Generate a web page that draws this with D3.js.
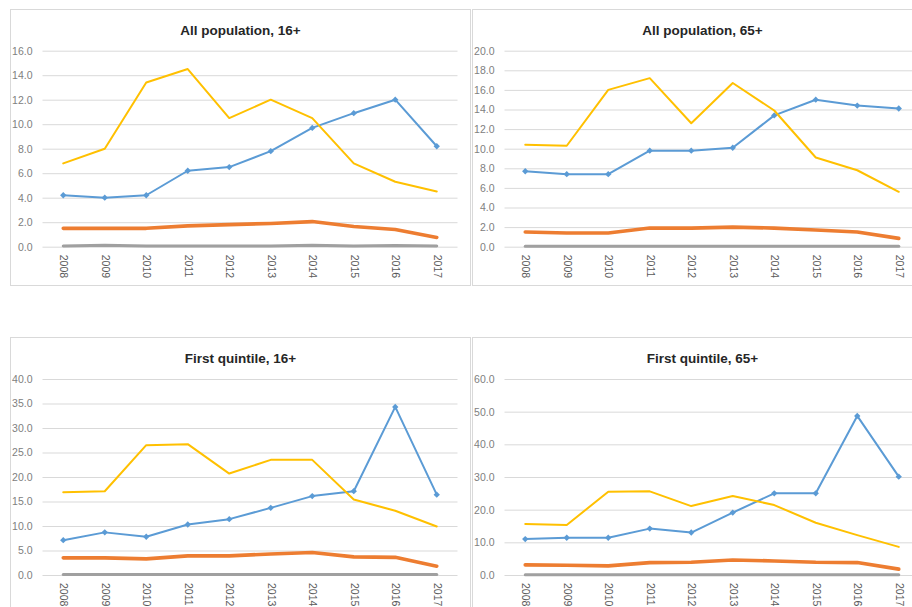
<!DOCTYPE html>
<html>
<head>
<meta charset="utf-8">
<script src="https://cdn.jsdelivr.net/npm/d3@7"></script>
<style>
  html, body { margin: 0; padding: 0; background: #ffffff; }
  svg { display: block; font-family: "Liberation Sans", Arial, sans-serif; }
</style>
</head>
<body>
<svg id="chart" width="912" height="607"></svg>
<script>
// Years along the horizontal axis of every panel
const years = ["2008", "2009", "2010", "2011", "2012", "2013", "2014", "2015", "2016", "2017"];

// Panel titles
const panelTitles = ["All population, 16+", "All population, 65+", "First quintile, 16+", "First quintile, 65+"];

// Y-axis ticks for each panel
const ticksAll16 = [0, 2, 4, 6, 8, 10, 12, 14, 16];
const ticksAll65 = [0, 2, 4, 6, 8, 10, 12, 14, 16, 18, 20];
const ticksQ16 = [0, 5, 10, 15, 20, 25, 30, 35, 40];
const ticksQ65 = [0, 10, 20, 30, 40, 50, 60];

// All population, 16+
const all16Blue   = [4.2, 4.0, 4.2, 6.2, 6.5, 7.8, 9.7, 10.9, 12.0, 8.2];
const all16Orange = [1.5, 1.5, 1.5, 1.7, 1.8, 1.9, 2.05, 1.65, 1.4, 0.75];
const all16Gray   = [0.05, 0.12, 0.05, 0.05, 0.05, 0.05, 0.12, 0.05, 0.1, 0.05];
const all16Yellow = [6.8, 8.0, 13.4, 14.5, 10.5, 12.0, 10.5, 6.8, 5.3, 4.5];

// All population, 65+
const all65Blue   = [7.7, 7.4, 7.4, 9.8, 9.8, 10.1, 13.4, 15.0, 14.4, 14.1];
const all65Orange = [1.5, 1.4, 1.4, 1.9, 1.9, 2.0, 1.9, 1.7, 1.5, 0.85];
const all65Gray   = [0.05, 0.05, 0.05, 0.05, 0.05, 0.05, 0.05, 0.05, 0.05, 0.05];
const all65Yellow = [10.4, 10.3, 16.0, 17.2, 12.6, 16.7, 13.9, 9.1, 7.8, 5.6];

// First quintile, 16+
const q16Blue   = [7.1, 8.7, 7.8, 10.3, 11.4, 13.7, 16.1, 17.1, 34.3, 16.4];
const q16Orange = [3.5, 3.5, 3.3, 3.9, 3.9, 4.3, 4.6, 3.7, 3.6, 1.8];
const q16Gray   = [0.1, 0.1, 0.1, 0.1, 0.1, 0.1, 0.1, 0.1, 0.1, 0.1];
const q16Yellow = [16.9, 17.1, 26.5, 26.7, 20.7, 23.5, 23.5, 15.4, 13.1, 9.9];

// First quintile, 65+
const q65Blue   = [11.0, 11.4, 11.4, 14.2, 13.0, 19.1, 25.0, 25.0, 48.7, 30.1];
const q65Orange = [3.1, 3.0, 2.8, 3.8, 3.9, 4.6, 4.3, 3.9, 3.8, 1.8];
const q65Gray   = [0.1, 0.1, 0.1, 0.1, 0.1, 0.1, 0.1, 0.1, 0.1, 0.1];
const q65Yellow = [15.6, 15.3, 25.5, 25.6, 21.1, 24.2, 21.4, 16.0, 12.2, 8.6];

// Build panel descriptions from the arrays above
const panels = [
  { title: panelTitles[0], ticks: ticksAll16, col: 0, row: 0, series: [all16Blue, all16Orange, all16Gray, all16Yellow] },
  { title: panelTitles[1], ticks: ticksAll65, col: 1, row: 0, series: [all65Blue, all65Orange, all65Gray, all65Yellow] },
  { title: panelTitles[2], ticks: ticksQ16,   col: 0, row: 1, series: [q16Blue, q16Orange, q16Gray, q16Yellow] },
  { title: panelTitles[3], ticks: ticksQ65,   col: 1, row: 1, series: [q65Blue, q65Orange, q65Gray, q65Yellow] }
];

// Series styling (blue with diamonds, thick orange, grey, yellow)
const seriesStyle = [
  { color: "#5b9bd5", width: 2,   marker: true },
  { color: "#ed7d31", width: 3.6, marker: false },
  { color: "#a0a0a0", width: 3,   marker: false },
  { color: "#ffc000", width: 2,   marker: false }
];

// Layout of the 2x2 grid of chart boxes
const colX = [10.5, 472.5];
const rowY = [9.5, 337.5];
const boxW = 460, boxH = 276;
const plotLeft = 32, plotW = 415;
const rowPlot = [{ top: 50.7, zero: 246.7 }, { top: 379, zero: 575 }];

const svg = d3.select("#chart");

panels.forEach(p => {
  const ox = colX[p.col];
  const oy = rowY[p.row];
  const g = svg.append("g");

  // Chart box
  g.append("rect")
    .attr("x", ox).attr("y", oy)
    .attr("width", boxW).attr("height", boxH + (p.row === 1 ? 60 : 0))
    .attr("fill", "#ffffff")
    .attr("stroke", "#d9d9d9").attr("stroke-width", 1);

  const x = d3.scalePoint()
    .domain(years)
    .range([ox + plotLeft, ox + plotLeft + plotW])
    .padding(0.5);

  const yMax = p.ticks[p.ticks.length - 1];
  const y = d3.scaleLinear()
    .domain([0, yMax])
    .range([rowPlot[p.row].zero, rowPlot[p.row].top]);

  // Gridlines and y tick labels
  const yAxis = g.append("g")
    .attr("transform", `translate(${ox + plotLeft},0)`)
    .call(d3.axisLeft(y).tickValues(p.ticks).tickFormat(d3.format(".1f"))
      .tickSizeInner(-plotW).tickSizeOuter(0).tickPadding(10));
  yAxis.select(".domain").remove();
  yAxis.selectAll(".tick line").attr("stroke", "#d9d9d9").attr("stroke-width", 1);
  yAxis.selectAll(".tick text")
    .attr("fill", "#808080").style("font-size", "10.5px");

  // Year labels, rotated
  const xAxis = g.append("g")
    .attr("transform", `translate(0,${rowPlot[p.row].zero})`)
    .call(d3.axisBottom(x).tickSize(0).tickPadding(0));
  xAxis.select(".domain").remove();
  xAxis.selectAll(".tick text")
    .attr("transform", "rotate(90)")
    .attr("x", 8).attr("y", 0).attr("dy", "0.35em")
    .style("text-anchor", "start")
    .attr("fill", "#595959").style("font-size", "10.5px");

  // Title
  g.append("text")
    .attr("x", ox + boxW / 2).attr("y", oy + 25)
    .attr("text-anchor", "middle")
    .attr("fill", "#262626")
    .style("font-size", "13.5px").style("font-weight", "bold")
    .text(p.title);

  // Series lines
  const line = d3.line()
    .x((d, i) => x(years[i]))
    .y(d => y(d));

  p.series.forEach((vals, si) => {
    const st = seriesStyle[si];
    g.append("path")
      .datum(vals)
      .attr("d", line)
      .attr("fill", "none")
      .attr("stroke", st.color)
      .attr("stroke-width", st.width)
      .attr("stroke-linejoin", "round")
      .attr("stroke-linecap", "round");
    if (st.marker) {
      g.selectAll(null)
        .data(vals)
        .enter().append("path")
        .attr("transform", (d, i) => `translate(${x(years[i])},${y(d)}) rotate(45)`)
        .attr("d", d3.symbol(d3.symbolSquare, 20))
        .attr("fill", st.color);
    }
  });
});
</script>
</body>
</html>
